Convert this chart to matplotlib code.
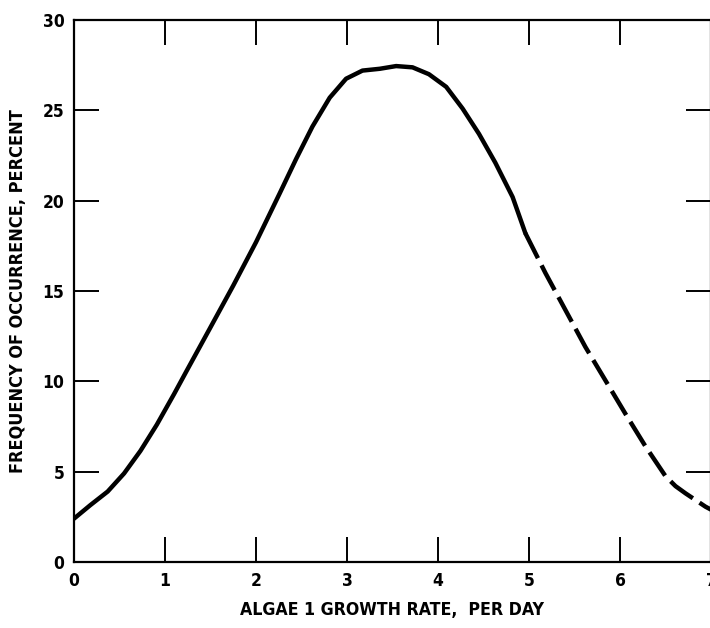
#!/usr/bin/env python3
import matplotlib
matplotlib.use('Agg')
import matplotlib.pyplot as plt

# measured part of the curve (solid)
x_solid = [0.0, 0.18, 0.37, 0.55, 0.73, 0.91, 1.10, 1.24, 1.49, 1.75, 2.0,
           2.26, 2.44, 2.62, 2.81, 2.99, 3.17, 3.36, 3.54, 3.72, 3.90, 4.09,
           4.27, 4.45, 4.63, 4.82, 4.96]
y_solid = [2.4, 3.15, 3.9, 4.9, 6.15, 7.6, 9.3, 10.6, 12.9, 15.3, 17.7,
           20.4, 22.3, 24.1, 25.7, 26.75, 27.2, 27.3, 27.45, 27.38, 27.0,
           26.3, 25.1, 23.7, 22.1, 20.2, 18.2]

# extrapolated part (dashed)
x_dash = [4.96, 5.18, 5.40, 5.62, 5.84, 6.06, 6.28, 6.5, 6.61, 6.72, 6.94, 7.0]
y_dash = [18.2, 16.0, 13.95, 11.9, 10.05, 8.2, 6.4, 4.75, 4.2, 3.8, 3.06, 2.9]

x_ticks = [0, 1, 2, 3, 4, 5, 6, 7]
y_ticks = [0, 5, 10, 15, 20, 25, 30]

font = dict(family='DejaVu Sans', stretch='condensed', weight='bold')

fig = plt.figure(figsize=(7.1, 6.28), dpi=100)
ax = fig.add_axes([74/710, 66/628, 637/710, 542/628])

ax.plot(x_solid, y_solid, color='black', lw=3.2, solid_capstyle='round',
        solid_joinstyle='round')
ax.plot(x_dash, y_dash, color='black', lw=3.2, dashes=(6.3, 1.8),
        dash_capstyle='butt', dash_joinstyle='round')

ax.set_xlim(0, 7)
ax.set_ylim(0, 30)
ax.set_xticks(x_ticks)
ax.set_yticks(y_ticks)
ax.tick_params(direction='in', length=18, width=1.4, top=True, right=True,
               pad=7, labelsize=12.5)
for lab in ax.get_xticklabels() + ax.get_yticklabels():
    lab.set_family(font['family'])
    lab.set_stretch(font['stretch'])
    lab.set_fontweight(font['weight'])

for sp in ax.spines.values():
    sp.set_linewidth(1.6)

ax.set_xlabel('ALGAE 1 GROWTH RATE,  PER DAY', fontsize=12.7, labelpad=8,
              **font)
fig.text(18.5/710, 1 - 291/628, 'FREQUENCY OF OCCURRENCE, PERCENT',
         fontsize=13, rotation=90, ha='center', va='center', **font)

fig.savefig('out.png', dpi=100, facecolor='white')
